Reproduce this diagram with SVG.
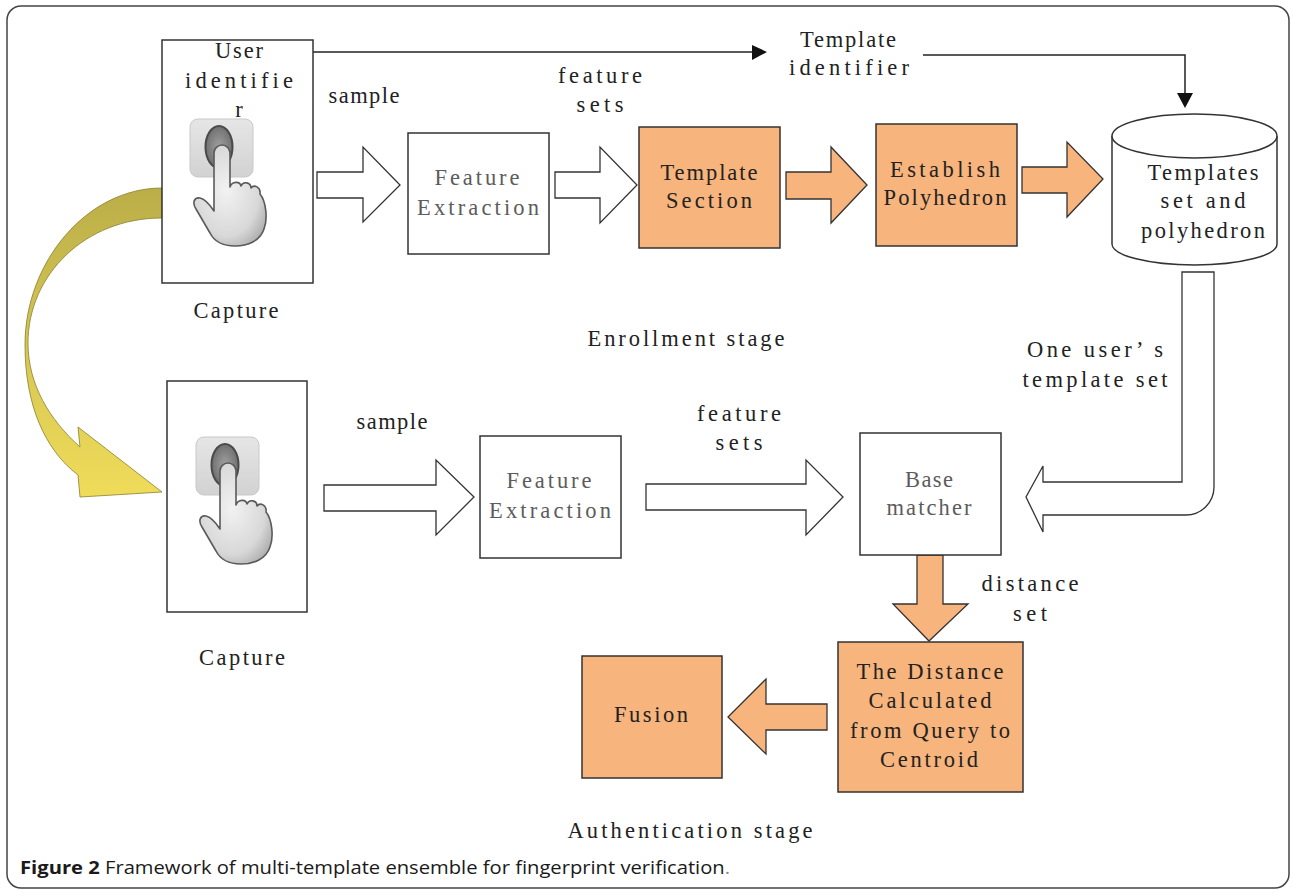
<svg xmlns="http://www.w3.org/2000/svg" width="1293" height="893" viewBox="0 0 1293 893">
<style>
.t{font-family:"Liberation Serif","Times New Roman",serif;font-size:22.5px;fill:#222;text-anchor:middle}
.g{fill:#5c5c5c}
.box{fill:#fff;stroke:#333;stroke-width:1.5}
.ob{fill:#F7B47C;stroke:#333;stroke-width:1.5}
.ha{fill:#fff;stroke:#333;stroke-width:1.3;stroke-linejoin:miter}
.oa{fill:#F7B47C;stroke:#333;stroke-width:1.3}
.ln{fill:none;stroke:#222;stroke-width:1.5}
.cap{font-family:"Open Sans","Noto Sans","Liberation Sans",sans-serif;font-size:18px;fill:#1a1a1a}
</style>
<defs>
<linearGradient id="yel" gradientUnits="userSpaceOnUse" x1="0" y1="188" x2="0" y2="497">
<stop offset="0" stop-color="#BBAE48"/>
<stop offset="0.45" stop-color="#D2C452"/>
<stop offset="1" stop-color="#F0DC5A"/>
</linearGradient>
<linearGradient id="sq" x1="0" y1="0" x2="0" y2="1">
<stop offset="0" stop-color="#e6e6e6"/>
<stop offset="1" stop-color="#d2d2d2"/>
</linearGradient>
<radialGradient id="hand" cx="0.45" cy="0.45" r="0.65">
<stop offset="0" stop-color="#f2f2f2"/>
<stop offset="0.7" stop-color="#d8d8d8"/>
<stop offset="1" stop-color="#adadad"/>
</radialGradient>
<radialGradient id="oval" cx="0.5" cy="0.5" r="0.6">
<stop offset="0" stop-color="#a0a0a0"/>
<stop offset="1" stop-color="#676767"/>
</radialGradient>
<g id="icon">
<rect x="0" y="0" width="63" height="58" rx="8" fill="url(#sq)" stroke="#c8c8c8" stroke-width="1"/>
<ellipse cx="29" cy="28" rx="13.5" ry="21" fill="url(#oval)" stroke="#4a4a4a" stroke-width="2"/>
<path d="M24,34 A8,8 0 0 1 40,34 L40,68 C42,62 50,62 51,67 C53,62 61,63 61,69 C64,65 71,68 70,75 C76,82 78,100 74,110 C70,122 58,127 45,127 C33,127 24,122 20,114 L6,90 C2,84 4,78 10,79 C15,80 20,86 24,92 Z" fill="url(#hand)" stroke="#5a5a5a" stroke-width="1.6" stroke-linejoin="round"/>
</g>
</defs>
<rect width="1293" height="893" fill="#fff"/>
<rect id="frame" x="7" y="6" width="1282" height="882" rx="14" fill="none" stroke="#444" stroke-width="1.5"/>

<g id="connectors">
<path class="ln" d="M313,52 L755,52"/>
<polygon points="752,45 767,52 752,60" fill="#111"/>
<path class="ln" d="M923,55 L1185,55 L1185,95"/>
<polygon points="1177,93 1193,93 1185,108" fill="#111"/>
<path d="M162,188 C87,188 25,262 25,345 C25,405 45,450 78,475 L80,497 L162,492 L78,427 L80,447 C50,420 28,385 28,343 C28,275 85,218 162,218 Z" fill="url(#yel)" stroke="#8a7f2e" stroke-width="0.8"/>
<polygon class="ha" points="317,172 363,172 363,147 400,185 363,222 363,198 317,198"/>
<polygon class="ha" points="555,172 600,172 600,147 637,185 600,223 600,198 555,198"/>
<polygon class="oa" points="786,172 831,172 831,147 867,185 831,223 831,199 786,199"/>
<polygon class="oa" points="1022,167 1067,167 1067,142 1103,179 1067,217 1067,193 1022,193"/>
<path class="ha" d="M1182,272 L1214,272 L1214,487 A28,28 0 0 1 1186,515 L1043,515 L1043,532 L1026,497 L1043,466 L1043,482 L1182,482 Z"/>
<polygon class="ha" points="324,485 436,485 436,460 474,497 436,535 436,511 324,511"/>
<polygon class="ha" points="646,484 806,484 806,460 843,497 806,535 806,510 646,510"/>
<polygon class="oa" points="917,555 943,555 943,604 968,604 929,641 893,604 917,604"/>
<polygon class="oa" points="827,704 766,704 766,679 728,717 766,754 766,730 827,730"/>
</g>

<g id="capture-enroll">
<rect class="box" x="162" y="40" width="151" height="243"/>
<text class="t" x="239" y="58" textLength="48">User</text>
<text class="t" x="239" y="88" textLength="108">identifie</text>
<text class="t" x="239" y="117">r</text>
<use href="#icon" x="190" y="119"/>
<text class="t" x="236" y="318" textLength="85">Capture</text>
</g>

<g id="fe-enroll">
<rect class="box" x="408" y="133" width="141" height="121"/>
<text class="t g" x="477" y="185" textLength="85">Feature</text>
<text class="t g" x="478" y="215" textLength="122">Extraction</text>
</g>

<g id="template-section">
<rect class="ob" x="639" y="127" width="141" height="121"/>
<text class="t" x="709" y="180" textLength="97">Template</text>
<text class="t" x="709" y="208" textLength="86">Section</text>
</g>

<g id="establish">
<rect class="ob" x="876" y="124" width="141" height="122"/>
<text class="t" x="945" y="177" textLength="110">Establish</text>
<text class="t" x="945" y="205" textLength="123">Polyhedron</text>
</g>

<g id="db">
<path d="M1112,136 L1112,244 A82.5,21 0 0 0 1277,244 L1277,136" fill="#fff" stroke="#333" stroke-width="1.5"/>
<ellipse cx="1194.5" cy="136" rx="82.5" ry="22" fill="#fff" stroke="#333" stroke-width="1.5"/>
<text class="t" x="1203" y="180" textLength="111">Templates</text>
<text class="t" x="1203" y="208" textLength="85">set and</text>
<text class="t" x="1203" y="238" textLength="124">polyhedron</text>
</g>

<g id="labels">
<text class="t" x="364" y="103" textLength="71">sample</text>
<text class="t" x="600" y="83" textLength="84">feature</text>
<text class="t" x="600" y="112" textLength="47">sets</text>
<text class="t" x="848" y="47" textLength="96">Template</text>
<text class="t" x="849" y="75" textLength="120">identifier</text>
<text class="t" x="686" y="346" textLength="197">Enrollment stage</text>
<text class="t" x="1095" y="357" textLength="136">One user’ s</text>
<text class="t" x="1095" y="387" textLength="145">template set</text>
<text class="t" x="392" y="429" textLength="71">sample</text>
<text class="t" x="739" y="421" textLength="84">feature</text>
<text class="t" x="739" y="450" textLength="47">sets</text>
<text class="t" x="1030" y="591" textLength="97">distance</text>
<text class="t" x="1030" y="621" textLength="34">set</text>
<text class="t" x="690" y="838" textLength="245">Authentication stage</text>
</g>

<g id="capture-auth">
<rect class="box" x="167" y="381" width="140" height="231"/>
<use href="#icon" x="196" y="437"/>
<text class="t" x="242" y="665" textLength="86">Capture</text>
</g>

<g id="fe-auth">
<rect class="box" x="480" y="436" width="141" height="122"/>
<text class="t g" x="549" y="488" textLength="85">Feature</text>
<text class="t g" x="550" y="518" textLength="122">Extraction</text>
</g>

<g id="base-matcher">
<rect class="box" x="860" y="433" width="141" height="122"/>
<text class="t g" x="929" y="487" textLength="48">Base</text>
<text class="t g" x="929" y="515" textLength="85">matcher</text>
</g>

<g id="distance">
<rect class="ob" x="838" y="642" width="185" height="150"/>
<text class="t" x="930" y="679" textLength="147">The Distance</text>
<text class="t" x="930" y="708" textLength="123">Calculated</text>
<text class="t" x="930" y="738" textLength="160">from Query to</text>
<text class="t" x="929" y="767" textLength="98">Centroid</text>
</g>

<g id="fusion">
<rect class="ob" x="582" y="656" width="140" height="122"/>
<text class="t" x="651" y="722" textLength="74">Fusion</text>
</g>

<text class="cap" x="20" y="874" textLength="710" lengthAdjust="spacingAndGlyphs"><tspan font-weight="bold">Figure 2</tspan> Framework of multi-template ensemble for fingerprint verification<tspan fill="#888">.</tspan></text>
</svg>
